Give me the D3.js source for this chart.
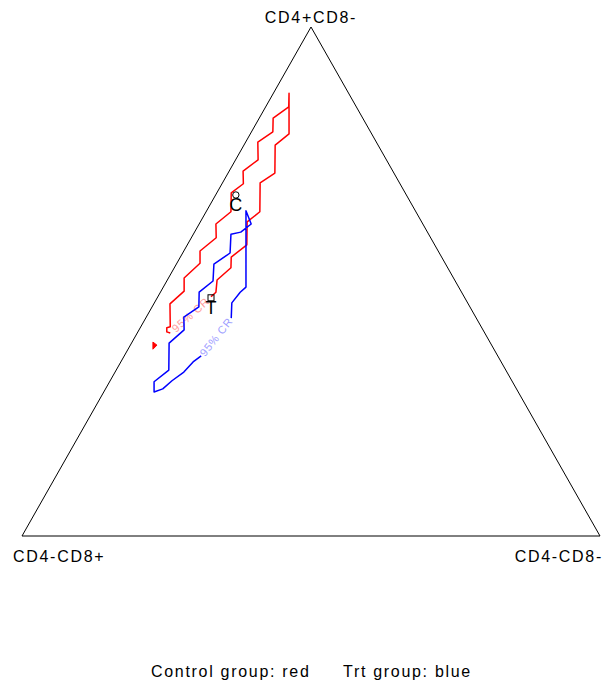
<!DOCTYPE html>
<html>
<head>
    <style type="text/css">
        body { margin: 0; background: #fff; }
        text {
            font-family: "Liberation Sans", Arial, sans-serif;
            fill: #000;
        }
        .corner, .legend { font-size: 16px; letter-spacing: 1.7px; }
        .mark { font-size: 18px; text-anchor: middle; }
        .crLabel { font-size: 11px; letter-spacing: 0.8px; text-anchor: middle; }
    </style>
    <script src="https://d3js.org/d3.v7.min.js"></script>
</head>
<body>
    <svg id="mySvg" width="604" height="683"></svg>
</body>
<script type="text/javascript">
// corner names: top, left, right
const corners = ['CD4+CD8-', 'CD4-CD8+', 'CD4-CD8-'];

// contour points as compositions [CD4+CD8-, CD4-CD8+, CD4-CD8-]
// the label sits in the gap between the last and the first point
const controlRegion = [
    [0.399, 0.545, 0.057], [0.401, 0.549, 0.050], [0.409, 0.545, 0.046], [0.411, 0.539, 0.051],
    [0.456, 0.516, 0.028], [0.481, 0.479, 0.040], [0.507, 0.466, 0.027], [0.536, 0.424, 0.040],
    [0.560, 0.412, 0.028], [0.586, 0.371, 0.043], [0.613, 0.358, 0.029], [0.637, 0.320, 0.043],
    [0.674, 0.301, 0.025], [0.692, 0.272, 0.037], [0.717, 0.259, 0.024], [0.739, 0.222, 0.039],
    [0.774, 0.205, 0.021], [0.794, 0.169, 0.037], [0.821, 0.155, 0.024], [0.843, 0.117, 0.040],
    [0.870, 0.103, 0.027], [0.790, 0.143, 0.067], [0.768, 0.178, 0.054], [0.713, 0.206, 0.081],
    [0.694, 0.241, 0.065], [0.637, 0.270, 0.093], [0.617, 0.302, 0.081], [0.572, 0.325, 0.103],
    [0.548, 0.364, 0.088], [0.527, 0.375, 0.098], [0.503, 0.411, 0.086], [0.479, 0.425, 0.096],
    [0.470, 0.438, 0.092]
];
const trtRegion = [
    [0.428, 0.424, 0.148], [0.458, 0.408, 0.134], [0.479, 0.383, 0.138], [0.489, 0.368, 0.143],
    [0.639, 0.293, 0.068], [0.613, 0.297, 0.090], [0.597, 0.323, 0.080], [0.593, 0.342, 0.065],
    [0.556, 0.362, 0.082], [0.534, 0.401, 0.065], [0.501, 0.419, 0.080], [0.479, 0.454, 0.067],
    [0.450, 0.469, 0.081], [0.430, 0.505, 0.065], [0.405, 0.517, 0.078], [0.379, 0.556, 0.065],
    [0.326, 0.583, 0.091], [0.303, 0.620, 0.077], [0.283, 0.630, 0.087], [0.289, 0.612, 0.099],
    [0.305, 0.588, 0.107], [0.322, 0.559, 0.119], [0.342, 0.533, 0.125], [0.354, 0.513, 0.133]
];
// small isolated piece of the control contour
const controlSpeck = [[0.381, 0.583, 0.036], [0.367, 0.590, 0.043], [0.375, 0.579, 0.046]];

// group centres
const groupNames = ['C', 'T'];
const groupComps = [[0.670, 0.295, 0.035], [0.468, 0.439, 0.093]];

const regionLabel = '95% CR';
const legendItems = ['Control group: red', 'Trt group: blue'];

const svg = d3.select('#mySvg');

// top fraction -> vertical, right fraction + half top -> horizontal
const xScale = d3.scaleLinear().domain([0, 1]).range([22, 600]);
const yScale = d3.scaleLinear().domain([0, 1]).range([536, 27]);
const px = d => xScale(d[2] + d[0] / 2);
const py = d => yScale(d[0]);

const line = d3.line().x(px).y(py);

// triangle
svg.append('path')
    .attr('d', line([[1, 0, 0], [0, 1, 0], [0, 0, 1]]) + 'Z')
    .attr('fill', 'none')
    .attr('stroke', '#000')
    .attr('stroke-width', 1);

// corner labels
svg.append('text').attr('class', 'corner')
    .attr('x', px([1, 0, 0])).attr('y', py([1, 0, 0]) - 4)
    .attr('text-anchor', 'middle').text(corners[0]);
svg.append('text').attr('class', 'corner')
    .attr('x', px([0, 1, 0]) - 9).attr('y', py([0, 1, 0]) + 26)
    .attr('text-anchor', 'start').text(corners[1]);
svg.append('text').attr('class', 'corner')
    .attr('x', px([0, 0, 1]) + 3).attr('y', py([0, 0, 1]) + 26)
    .attr('text-anchor', 'end').text(corners[2]);

const regions = [
    { pts: controlRegion, color: '#ff0000', labelColor: '#ff9d9d' },
    { pts: trtRegion, color: '#0000ff', labelColor: '#a0a0ff' }
];

regions.forEach(r => {
    svg.append('path')
        .attr('d', line(r.pts))
        .attr('fill', 'none')
        .attr('stroke', r.color)
        .attr('stroke-width', 1.5)
        .attr('stroke-linejoin', 'round');

    // label in the gap between the ends
    var a = r.pts[0], b = r.pts[r.pts.length - 1];
    var x1 = px(a), y1 = py(a), x2 = px(b), y2 = py(b);
    if (x2 < x1) { [x1, x2] = [x2, x1]; [y1, y2] = [y2, y1]; }
    var ang = Math.atan2(y2 - y1, x2 - x1) * 180 / Math.PI;
    var cx = (x1 + x2) / 2, cy = (y1 + y2) / 2;
    svg.append('text').attr('class', 'crLabel')
        .attr('transform', 'translate(' + cx + ',' + cy + ') rotate(' + ang + ')')
        .attr('dy', '0.35em')
        .style('fill', r.labelColor)
        .text(regionLabel);
});

svg.append('path')
    .attr('d', line(controlSpeck) + 'Z')
    .attr('fill', '#ff0000')
    .attr('stroke', '#ff0000')
    .attr('stroke-width', 1);

// centre markers
svg.append('circle')
    .attr('cx', px(groupComps[0])).attr('cy', py(groupComps[0]))
    .attr('r', 3.2)
    .attr('fill', 'none').attr('stroke', '#000');
svg.append('rect')
    .attr('x', px(groupComps[1]) - 3).attr('y', py(groupComps[1]) - 3)
    .attr('width', 6).attr('height', 6)
    .attr('fill', 'none').attr('stroke', '#000');

svg.selectAll('text.mark')
    .data(groupNames)
    .enter()
    .append('text')
    .attr('class', 'mark')
    .attr('x', (d, i) => px(groupComps[i]))
    .attr('y', (d, i) => py(groupComps[i]) + 16)
    .text(d => d);

// legend line at the bottom
svg.selectAll('text.legend')
    .data(legendItems)
    .enter()
    .append('text')
    .attr('class', 'legend')
    .attr('x', (d, i) => i === 0 ? 151 : 343)
    .attr('y', 677)
    .text(d => d);
</script>
</html>
